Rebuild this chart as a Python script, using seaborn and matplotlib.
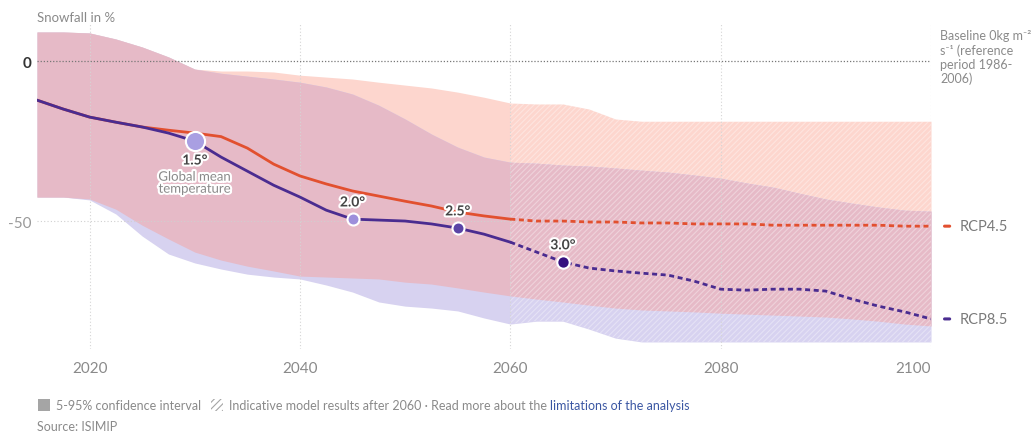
import numpy as np
import pandas as pd
import matplotlib
matplotlib.use("Agg")
import matplotlib.pyplot as plt
import matplotlib.patheffects as pe
from matplotlib.patches import Rectangle
import seaborn as sns

# data (snowfall change in %)
years = [2015, 2017.5, 2020, 2022.5, 2025, 2027.5, 2030, 2032.5, 2035, 2037.5,
         2040, 2042.5, 2045, 2047.5, 2050, 2052.5, 2055, 2057.5, 2060, 2062.5,
         2065, 2067.5, 2070, 2072.5, 2075, 2077.5, 2080, 2082.5, 2085, 2087.5,
         2090, 2092.5, 2095, 2097.5, 2100]

rcp45_mean = [-12.2, -15.0, -17.5, -19.1, -20.6, -21.6, -22.5, -23.6, -27.2, -32.2,
              -35.9, -38.4, -40.6, -42.2, -43.8, -45.3, -47.2, -48.4, -49.4, -50.0,
              -50.0, -50.3, -50.3, -50.6, -50.6, -50.9, -50.9, -50.9, -51.3, -51.3,
              -51.3, -51.3, -51.3, -51.6, -51.6]
rcp85_mean = [-12.2, -15.0, -17.5, -19.1, -20.6, -22.5, -25.0, -30.0, -34.4, -38.8,
              -42.5, -46.6, -49.4, -49.7, -50.0, -50.9, -52.2, -54.1, -56.6, -59.7,
              -62.8, -64.7, -65.6, -66.3, -66.9, -68.8, -71.3, -71.6, -71.3, -71.3,
              -71.9, -74.4, -76.6, -78.4, -80.6]

rcp45_upper = [9.1, 9.1, 8.8, 6.9, 4.4, 1.3, -2.5, -3.1, -3.1, -3.4,
               -4.4, -5.0, -5.6, -6.6, -7.5, -8.4, -9.7, -11.3, -13.1, -13.4,
               -13.4, -15.0, -18.1, -18.8, -18.8, -18.8, -18.8, -18.8, -18.8, -18.8,
               -18.8, -18.8, -18.8, -18.8, -18.8]
rcp45_lower = [-42.5, -42.5, -43.1, -46.3, -51.3, -55.6, -59.7, -62.2, -64.1, -65.6,
               -67.2, -67.5, -67.8, -68.1, -69.1, -69.7, -70.9, -72.2, -73.4, -74.4,
               -75.3, -76.3, -77.2, -77.8, -78.1, -78.4, -78.8, -79.1, -79.4, -79.7,
               -80.0, -80.6, -81.3, -82.2, -82.8]
rcp85_upper = [9.1, 9.1, 8.8, 6.9, 4.4, 1.3, -2.5, -3.8, -4.7, -5.6,
               -6.6, -8.1, -10.3, -13.8, -18.1, -22.8, -26.9, -30.0, -31.6, -31.9,
               -32.5, -32.8, -33.4, -34.1, -34.7, -35.6, -36.6, -38.1, -39.4, -41.3,
               -43.1, -44.4, -45.6, -46.6, -46.9]
rcp85_lower = [-42.5, -42.5, -43.4, -47.8, -54.7, -60.3, -63.1, -65.0, -66.6, -67.5,
               -68.1, -70.0, -72.2, -75.3, -76.6, -77.2, -78.1, -80.3, -82.2, -81.3,
               -81.3, -83.8, -86.6, -87.8, -87.8, -87.8, -87.8, -87.8, -87.8, -87.8,
               -87.8, -87.8, -87.8, -87.8, -87.8]

warming_labels = ["1.5°", "2.0°", "2.5°", "3.0°"]
warming_years = [2030, 2045, 2055, 2065]
warming_values = [-25.0, -49.4, -52.2, -62.8]

x_ticks = [2020, 2040, 2060, 2080, 2100]
y_ticks = [0, -50]

# colours
red = "#e2502f"
purple = "#4a2c90"
salmon = "#fdd6ce"
lavender = "#d7d2f0"
pink = "#e6bac7"
grey_txt = "#8a8a8a"

sns.set_theme(style="white")
plt.rcParams['font.family'] = ['Lato', 'DejaVu Sans']
plt.rcParams['hatch.linewidth'] = 0.8

df = pd.DataFrame({"year": years, "rcp45": rcp45_mean, "rcp85": rcp85_mean,
                   "up45": rcp45_upper, "lo45": rcp45_lower,
                   "up85": rcp85_upper, "lo85": rcp85_lower})

fig = plt.figure(figsize=(10.36, 4.35), dpi=100)
ax = fig.add_axes([37 / 1036, 1 - 350 / 435, (931 - 37) / 1036, (350 - 25) / 435])

# confidence bands
ax.fill_between(df.year, df.up45, df.lo45, color=salmon, lw=0, zorder=1)
ax.fill_between(df.year, df.up85, df.lo85, color=lavender, lw=0, zorder=1)
ax.fill_between(df.year, np.minimum(df.up45, df.up85), np.maximum(df.lo45, df.lo85),
                color=pink, lw=0, zorder=1)

# indicative results after 2060 -> hatched
late = df[df.year >= 2060]
ax.fill_between(late.year, np.maximum(late.up45, late.up85), np.minimum(late.lo45, late.lo85),
                facecolor="none", edgecolor=(1, 1, 1, 0.35), hatch="//////", lw=0, zorder=2)

# grid
for yr in x_ticks:
    ax.axvline(yr, color="#d5d5d5", ls=(0, (1, 2)), lw=0.8, zorder=2)
ax.axhline(0, color="#777777", ls=(0, (1, 1.5)), lw=0.9, zorder=2)
ax.axhline(-50, color="#d0d0d0", ls=(0, (1, 2)), lw=0.8, zorder=2)

# mean lines, solid until 2060, dashed after
early = df[df.year <= 2060]
sns.lineplot(data=early, x="year", y="rcp45", color=red, lw=2.0, ax=ax, zorder=4)
sns.lineplot(data=early, x="year", y="rcp85", color=purple, lw=2.0, ax=ax, zorder=4)
sns.lineplot(data=late, x="year", y="rcp45", color=red, lw=2.0, ax=ax, zorder=4,
             dashes=False, linestyle=(0, (1.8, 1.3)))
sns.lineplot(data=late, x="year", y="rcp85", color=purple, lw=2.0, ax=ax, zorder=4,
             dashes=False, linestyle=(0, (1.8, 1.3)))

# warming level markers
marker_cols = ["#a99fe2", "#9d8fdb", "#5b44a6", "#36107f"]
marker_size = [190, 75, 75, 80]
halo = [pe.withStroke(linewidth=3, foreground="white")]
for lab, yr, v, c, s in zip(warming_labels, warming_years, warming_values, marker_cols, marker_size):
    sns.scatterplot(x=[yr], y=[v], color=c, s=s, edgecolor="white", linewidth=1.5, ax=ax, zorder=5)
    off = -14 if lab == "1.5°" else 12
    ax.annotate(lab, (yr, v), xytext=(0, off), textcoords="offset points", ha="center",
                va="center", fontsize=10, fontweight="bold", color="#444444",
                path_effects=halo, zorder=6)
ax.annotate("Global mean\ntemperature", (warming_years[0], warming_values[0]), xytext=(0, -30),
            textcoords="offset points", ha="center", va="center", fontsize=9.5,
            color=grey_txt, linespacing=1.0, path_effects=halo, zorder=6)

# axes
ax.set_xlim(2015, 2100)
ax.set_ylim(-90, 11.6)
ax.set_xticks(x_ticks)
ax.set_xticklabels([str(t) for t in x_ticks], color=grey_txt, fontsize=11)
ax.get_xticklabels()[-1].set_ha("right")
ax.set_yticks(y_ticks)
ax.set_yticklabels(["0", "-50"], fontsize=11)
ax.get_yticklabels()[0].set_fontweight("bold")
ax.get_yticklabels()[0].set_color("#333333")
ax.get_yticklabels()[1].set_color("#999999")
ax.tick_params(axis="x", length=0, pad=9)
ax.tick_params(axis="y", length=0, pad=4)
ax.set_xlabel("")
ax.set_ylabel("")
sns.despine(ax=ax, left=True, bottom=True)
ax.patch.set_alpha(0)

fig.text(37 / 1036, 1 - 18 / 435, "Snowfall in %", color=grey_txt, fontsize=9.5, va="center")

# right side labels
fig.text(940 / 1036, 1 - 30 / 435, "Baseline 0kg m\u207b\u00b2\ns\u207b\u00b9 (reference\nperiod 1986-\n2006)",
         color=grey_txt, fontsize=9, va="top", linespacing=1.2)
for name, v, c in [("RCP4.5", rcp45_mean[-1], red), ("RCP8.5", rcp85_mean[-1], purple)]:
    ax.annotate("", xy=(1.024, v), xytext=(1.012, v), xycoords=("axes fraction", "data"),
                arrowprops=dict(arrowstyle="-", color=c, lw=2.2), annotation_clip=False)
    ax.annotate(name, xy=(1.032, v), xycoords=("axes fraction", "data"), va="center",
                fontsize=10.5, color="#7a7a7a", annotation_clip=False)

# footer legend
fig.patches.append(Rectangle((38 / 1036, 1 - 412 / 435), 12 / 1036, 12 / 435,
                             transform=fig.transFigure, facecolor="#a5a5a5", lw=0))
fig.text(56 / 1036, 1 - 406 / 435, "5-95% confidence interval", color=grey_txt,
         fontsize=9, va="center")
fig.patches.append(Rectangle((211 / 1036, 1 - 412 / 435), 12 / 1036, 12 / 435,
                             transform=fig.transFigure, facecolor="white", edgecolor="#a5a5a5",
                             hatch="/////", lw=0))
t2 = fig.text(229 / 1036, 1 - 406 / 435,
              "Indicative model results after 2060 \u00b7 Read more about the ",
              color=grey_txt, fontsize=9, va="center")
ax.annotate("limitations of the analysis", xy=(1, 0.5), xycoords=t2, va="center",
            color="#3b57a3", fontsize=9, annotation_clip=False)
fig.text(37 / 1036, 1 - 427 / 435, "Source: ISIMIP", color=grey_txt, fontsize=9, va="center")

fig.savefig("out.png", dpi=100)
